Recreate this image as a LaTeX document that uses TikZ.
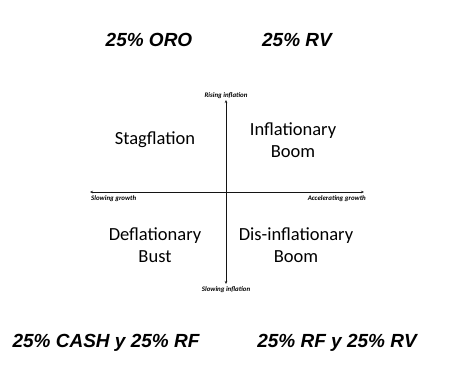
\documentclass[tikz,border=0pt]{standalone}
\usepackage{fontspec}
\setmainfont{Carlito}
\newfontfamily\alloc{Liberation Sans}
\usepackage{xcolor}
\usetikzlibrary{arrows.meta,positioning}
\definecolor{axisgray}{RGB}{20,20,20}

\begin{document}
\begin{tikzpicture}[x=1pt, y=-1pt,
    quadlabel/.style={font=\fontsize{18.5}{21.5}\selectfont, align=center, text=black},
    axislabel/.style={font=\fontsize{6.9}{7}\selectfont\bfseries\itshape, inner sep=0pt},
    alloclabel/.style={font=\alloc\fontsize{19}{22}\selectfont\bfseries\itshape},
    axisline/.style={axisgray, line width=0.7pt, {Stealth[length=3pt,width=2.5pt]}-{Stealth[length=3pt,width=2.5pt]}}]
    \useasboundingbox (0,0) rectangle (455,370);

    % Axes end points
    \coordinate (top) at (226,100);
    \coordinate (bottom) at (226,284);
    \coordinate (left) at (90,192);
    \coordinate (right) at (364,192);
    \draw[axisline] (bottom) -- (top);
    \draw[axisline] (left) -- (right);

    % Axis labels
    \node[axislabel, above=1.5pt of top] (rising) {Rising inflation};
    \node[axislabel, below=2pt of bottom] (slowinf) {Slowing inflation};
    \node[axislabel, anchor=north west] (slowgr) at (91,195) {Slowing growth};
    \node[axislabel, anchor=north east] (accgr) at (366,195) {Accelerating growth};

    % Quadrants
    \node[quadlabel] (stag) at (155,140) {Stagflation};
    \node[quadlabel] (infboom) at (293,140) {Inflationary\\Boom};
    \node[quadlabel] (defbust) at (155,245) {Deflationary\\Bust};
    \node[quadlabel] (disboom) at (296,245) {Dis-inflationary\\Boom};

    % Allocations
    \node[alloclabel] (oro) at (149,40) {25\% ORO};
    \node[alloclabel] (rv) at (297,40) {25\% RV};
    \node[alloclabel] (cashrf) at (106,343) {25\% CASH y 25\% RF};
    \node[alloclabel] (rfrv) at (337,343) {25\% RF y 25\% RV};
\end{tikzpicture}
\end{document}
